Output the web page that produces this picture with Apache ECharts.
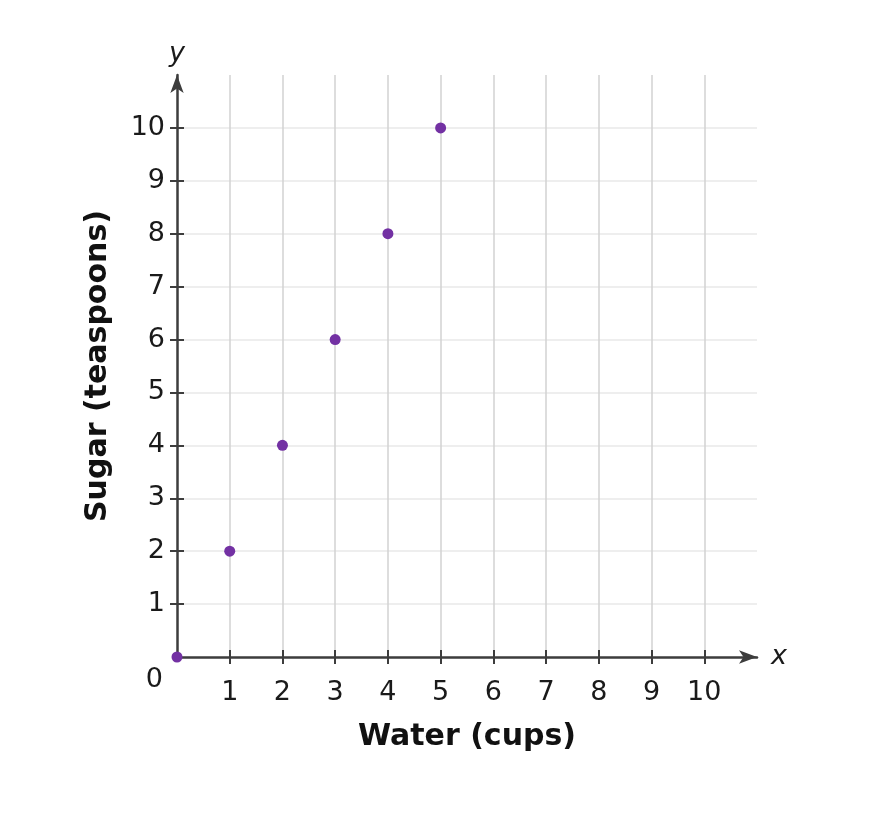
<!DOCTYPE html>
<html><head><meta charset="utf-8">
<script src="https://cdn.jsdelivr.net/npm/echarts@6/dist/echarts.min.js"></script>
<style>html,body{margin:0;padding:0;background:#fff}#c{width:876px;height:826px}</style>
</head><body><div id="c"></div>
<script>
var waterCups = [0, 1, 2, 3, 4, 5];
var sugarTsp = [0, 2, 4, 6, 8, 10];
var tickValues = [1, 2, 3, 4, 5, 6, 7, 8, 9, 10];
var xTitle = 'Water (cups)';
var yTitle = 'Sugar (teaspoons)';

var points = waterCups.map(function (w, i) { return [w, sugarTsp[i]]; });
var FONT = 'DejaVu Sans';
var axisColor = '#3d3d3d';
var textColor = '#1a1a1a';

function baseAxis(extra) {
  var a = {
    type: 'value', min: 0, max: 11, interval: 1,
    axisLine: { show: false },
    axisTick: { show: false },
    axisLabel: { show: false },
    splitLine: { show: false }
  };
  for (var k in extra) a[k] = extra[k];
  return a;
}

var option = {
  backgroundColor: '#fff',
  animation: false,
  grid: { left: 177, right: 119, top: 75, bottom: 169, containLabel: false },
  xAxis: [
    baseAxis({
      position: 'bottom',
      name: 'x', nameLocation: 'end', nameGap: 14,
      nameTextStyle: { fontFamily: FONT, fontStyle: 'italic', fontSize: 27, color: textColor, verticalAlign: 'middle' },
      axisLine: { show: true, onZero: false, symbol: ['none', 'arrow'], symbolSize: [10, 18], lineStyle: { color: axisColor, width: 2.5 } },
      axisTick: { show: true, customValues: tickValues, length: 7, inside: false, lineStyle: { color: axisColor, width: 2 } },
      axisLabel: { show: true, customValues: tickValues, margin: 22, fontFamily: FONT, fontSize: 27, color: textColor },
      splitLine: { show: true, lineStyle: { color: '#d2d2d2', width: 1.5 } }
    }),
    baseAxis({
      position: 'bottom',
      name: xTitle, nameLocation: 'middle', nameGap: 65,
      nameTextStyle: { fontFamily: FONT, fontWeight: 'bold', fontSize: 30, color: '#111' },
      axisTick: { show: true, customValues: tickValues, length: 7, inside: true, lineStyle: { color: axisColor, width: 2 } }
    })
  ],
  yAxis: [
    baseAxis({
      position: 'left',
      name: 'y', nameLocation: 'end', nameGap: 8,
      nameTextStyle: { fontFamily: FONT, fontStyle: 'italic', fontSize: 27, color: textColor, align: 'center' },
      axisLine: { show: true, onZero: false, symbol: ['none', 'arrow'], symbolSize: [10, 18], lineStyle: { color: axisColor, width: 2.5 } },
      axisTick: { show: true, customValues: tickValues, length: 7, inside: false, lineStyle: { color: axisColor, width: 2 } },
      axisLabel: {
        show: true, customValues: [0].concat(tickValues), margin: 12, fontFamily: FONT, fontSize: 27, color: textColor,
        formatter: function (v) { return v === 0 ? '{z|0}' : String(v); },
        rich: { z: { fontFamily: FONT, fontSize: 27, color: textColor, padding: [46, 2, 0, 0] } }
      },
      splitLine: { show: true, lineStyle: { color: '#e8e8e8', width: 1.5 } }
    }),
    baseAxis({
      position: 'left',
      name: yTitle, nameLocation: 'middle', nameGap: 64,
      nameTextStyle: { fontFamily: FONT, fontWeight: 'bold', fontSize: 30, color: '#111' },
      axisTick: { show: true, customValues: tickValues, length: 7, inside: true, lineStyle: { color: axisColor, width: 2 } }
    })
  ],
  series: [{
    type: 'scatter',
    xAxisIndex: 0, yAxisIndex: 0,
    data: points,
    symbol: 'circle',
    symbolSize: 11,
    itemStyle: { color: '#7331a3', opacity: 1 },
    z: 10
  }]
};

var chart = echarts.init(document.getElementById('c'), null, { renderer: 'canvas' });
chart.setOption(option);
</script>
</body></html>
